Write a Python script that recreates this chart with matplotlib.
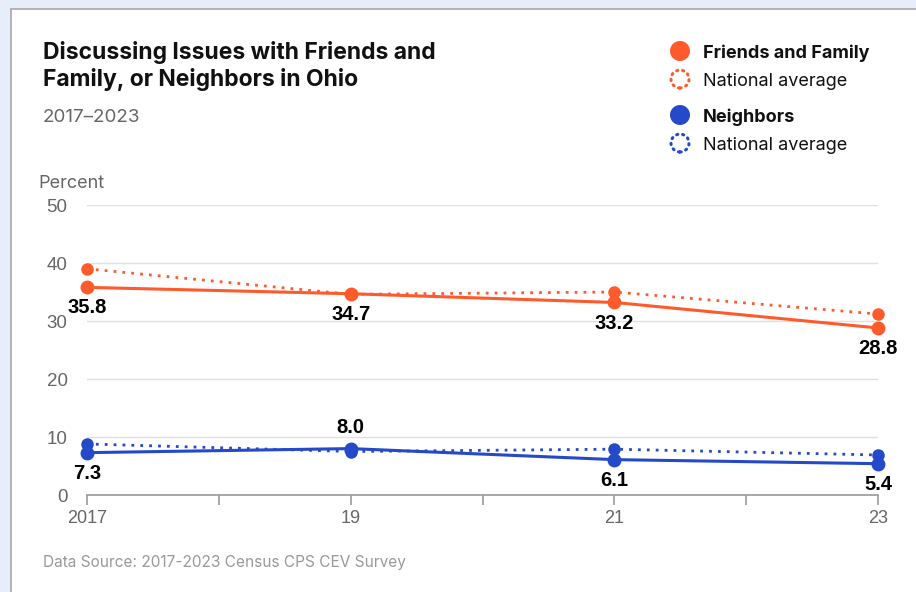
import matplotlib.pyplot as plt
from matplotlib.patches import Rectangle, Ellipse

YEARS = [2017, 2019, 2021, 2023]
TICK_YEARS = [2017, 2018, 2019, 2020, 2021, 2022, 2023]
TICK_LABELS = ["2017", "", "19", "", "21", "", "23"]

FRIENDS = [35.8, 34.7, 33.2, 28.8]
FRIENDS_NAT = [39.0, 34.6, 35.0, 31.2]
NEIGHBORS = [7.3, 8.0, 6.1, 5.4]
NEIGHBORS_NAT = [8.8, 7.5, 7.9, 6.9]

ORANGE = "#ff5a2c"
BLUE = "#2449c9"
W, H = 916, 592


def fx(px):
    return px / W


def fy(py):
    return 1 - py / H


def main():
    fig = plt.figure(figsize=(W / 100, H / 100), dpi=100, facecolor="#e8eef9")
    fig.patches.append(Rectangle((fx(11), -1), 2, fy(9) + 1, transform=fig.transFigure,
                                 facecolor="white", edgecolor="#a8a8a8", lw=1.2,
                                 zorder=-5))

    ax = fig.add_axes([fx(87), fy(495), fx(878) - fx(87), fy(205) - fy(495)])
    ax.set_facecolor("none")
    ax.set_xlim(2017, 2023)
    ax.set_ylim(0, 50)

    for y, nat, col in [(FRIENDS, FRIENDS_NAT, ORANGE), (NEIGHBORS, NEIGHBORS_NAT, BLUE)]:
        ax.plot(YEARS, nat, color=col, lw=2, ls=(0, (1, 2.2)), marker="o", ms=8,
                clip_on=False, zorder=3)
        ax.plot(YEARS, y, color=col, lw=2.2, marker="o", ms=9, clip_on=False, zorder=4)

    lab_kw = dict(textcoords="offset points", ha="center", fontsize=14.5,
                  fontweight="bold", family="Liberation Sans", color="black")
    for x, v in zip(YEARS, FRIENDS):
        ax.annotate(f"{v:.1f}", (x, v), xytext=(0, -8), va="top", **lab_kw)
    for x, v, nat in zip(YEARS, NEIGHBORS, NEIGHBORS_NAT):
        above = v > nat
        ax.annotate(f"{v:.1f}", (x, v), xytext=(0, 8 if above else -8),
                    va="bottom" if above else "top", **lab_kw)

    ax.set_yticks([0, 10, 20, 30, 40, 50])
    ax.set_xticks(TICK_YEARS)
    ax.set_xticklabels(TICK_LABELS)
    ax.grid(axis="y", color="#e0e0e0", lw=1)
    ax.set_axisbelow(True)
    for s in ["top", "right", "left"]:
        ax.spines[s].set_visible(False)
    ax.spines["bottom"].set_color("#9a9a9a")
    ax.spines["bottom"].set_linewidth(1.2)
    ax.tick_params(axis="y", length=0, pad=14, labelsize=13.5, labelcolor="#666666")
    ax.tick_params(axis="x", length=7, width=1.2, color="#9a9a9a", pad=4,
                   labelsize=13, labelcolor="#666666")
    for lab in ax.get_xticklabels() + ax.get_yticklabels():
        lab.set_family("Liberation Sans")

    fig.text(fx(43), fy(66), "Discussing Issues with Friends and\nFamily, or Neighbors in Ohio",
             ha="left", va="center", fontsize=16.5, fontweight="bold", family="Inter",
             linespacing=1.25, color="#111111")
    fig.text(fx(43), fy(118), "2017\u20132023", ha="left", va="center", fontsize=13.5,
             family="Inter", color="#666666")
    fig.text(fx(38), fy(183), "Percent", ha="left", va="center", fontsize=13,
             family="Inter", color="#666666")
    fig.text(fx(43), fy(562), "Data Source: 2017-2023 Census CPS CEV Survey", ha="left",
             va="center", fontsize=11.1, family="Inter", color="#999999")

    legend = [(51, ORANGE, "Friends and Family", True), (79, ORANGE, "National average", False),
              (115, BLUE, "Neighbors", True), (143, BLUE, "National average", False)]
    for py, col, txt, solid in legend:
        if solid:
            c = Ellipse((fx(680), fy(py)), 20 / W, 20 / H, transform=fig.transFigure,
                        facecolor=col, edgecolor="none")
        else:
            c = Ellipse((fx(680), fy(py)), 18 / W, 18 / H, transform=fig.transFigure,
                        facecolor="none", edgecolor=col, lw=2.2, ls=(0, (0.4, 1.6)))
            c.set_capstyle("round")
        fig.patches.append(c)
        fig.text(fx(703), fy(py + 2), txt, ha="left", va="center", fontsize=13,
                 fontweight="bold" if solid else "normal", family="Inter", color="#111111")

    fig.savefig("out.png", dpi=100, facecolor=fig.get_facecolor())


if __name__ == "__main__":
    main()
